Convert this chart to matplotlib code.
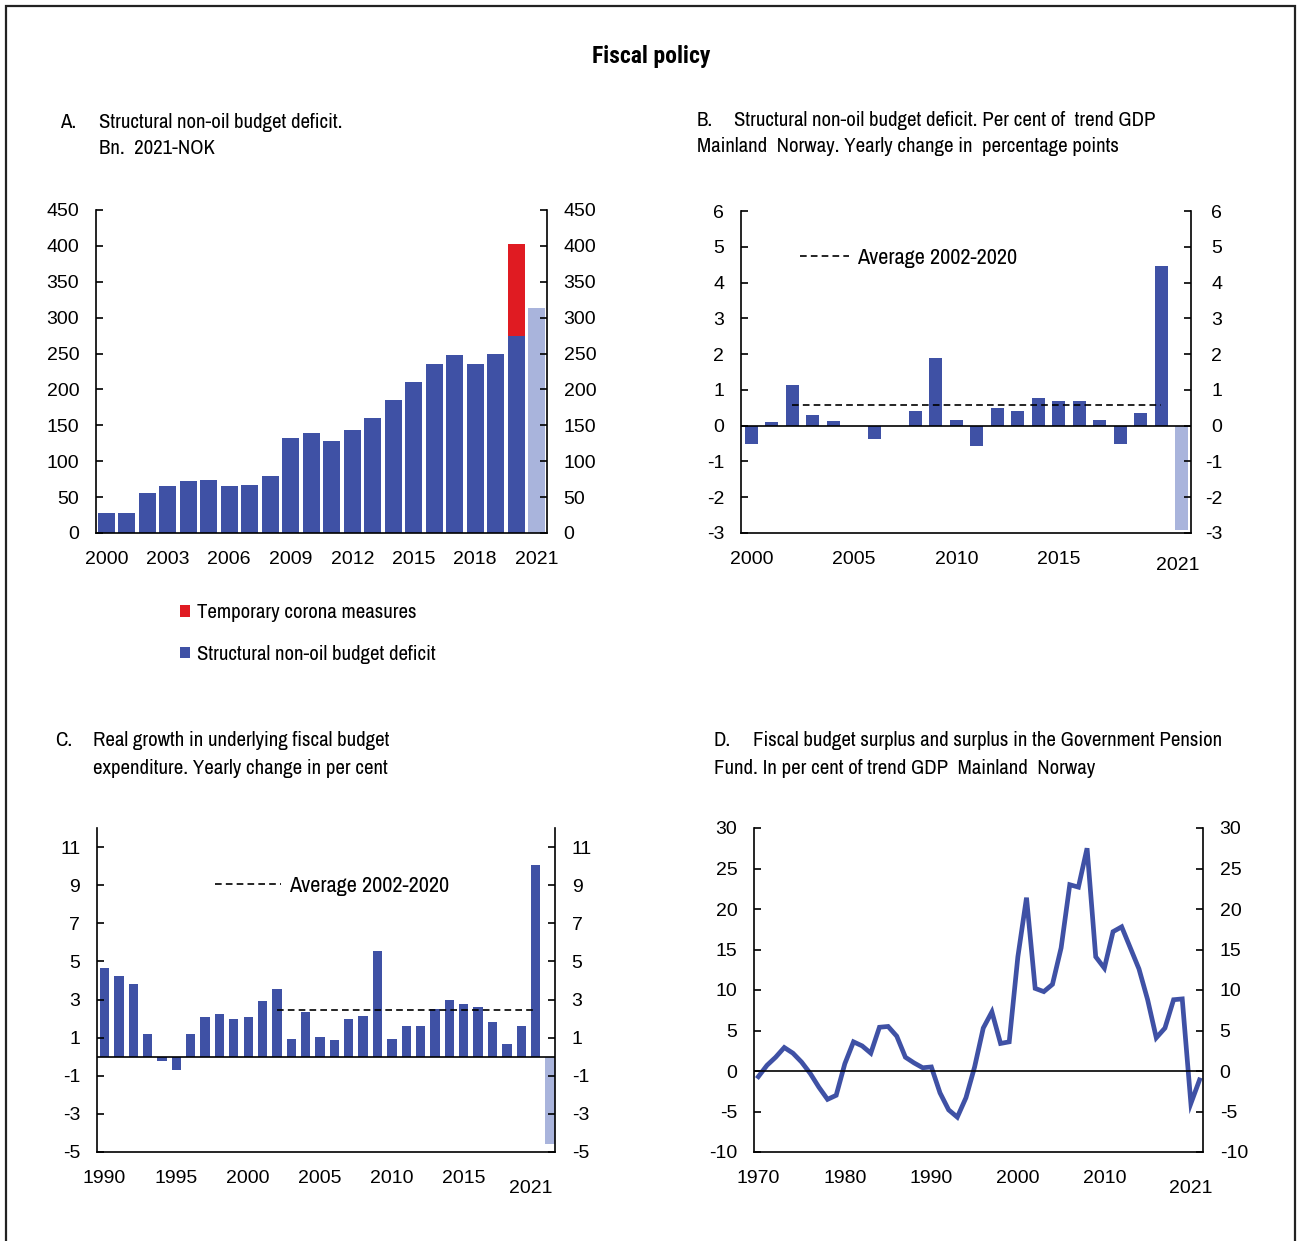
import matplotlib
matplotlib.use('Agg')
import matplotlib.pyplot as plt
from matplotlib import font_manager
from matplotlib.patches import Rectangle
from matplotlib.transforms import ScaledTranslation

# data
years_a = list(range(2000, 2021))
deficit_a = [28, 28, 56, 65, 72, 74, 65, 67, 79, 132, 139, 128, 144, 160, 185,
             211, 236, 248, 236, 250, 275]
corona_a = [0] * 20 + [128]
deficit_2021 = 313

years_b = list(range(2000, 2021))
change_b = [-0.5, 0.1, 1.15, 0.3, 0.12, 0.0, -0.37, 0.0, 0.41, 1.88, 0.17, -0.57,
            0.49, 0.41, 0.76, 0.68, 0.68, 0.17, -0.51, 0.35, 4.45]
change_b_2021 = -2.93
avg_b = 0.57

years_c = list(range(1990, 2021))
growth_c = [4.67, 4.25, 3.81, 1.2, -0.23, -0.68, 1.2, 2.06, 2.25, 1.98, 2.06, 2.94,
            3.53, 0.94, 2.32, 1.01, 0.86, 1.98, 2.15, 5.54, 0.94, 1.63, 1.63, 2.48,
            3.0, 2.76, 2.59, 1.8, 0.68, 1.63, 10.07]
growth_c_2021 = -4.6
avg_c = 2.47

years_d = list(range(1970, 2022))
surplus_d = [-0.7, 0.7, 1.7, 2.9, 2.2, 1.1, -0.3, -2.0, -3.5, -3.0, 0.9, 3.6, 3.1,
             2.2, 5.4, 5.5, 4.3, 1.7, 1.0, 0.4, 0.5, -2.7, -4.8, -5.7, -3.3, 0.5,
             5.3, 7.3, 3.4, 3.6, 14.1, 21.4, 10.2, 9.8, 10.7, 15.2, 23.0, 22.7,
             27.5, 14.1, 12.7, 17.2, 17.8, 15.2, 12.6, 8.8, 4.1, 5.3, 8.8, 8.9,
             -4.0, -1.1]

dark = '#3F51A5'
light = '#A9B4DC'
red = '#E01B22'

# narrow fonts for titles
fonts = font_manager.fontManager.ttflist
names = {f.name for f in fonts}
narrow_list = ['Archivo Narrow', 'Roboto Condensed', 'PT Sans Narrow', 'Fira Sans Condensed',
               'Liberation Sans Narrow']
narrow = next((n for n in narrow_list if n in names), 'DejaVu Sans')
bold_narrow = next((n for n in narrow_list
                    if any(f.name == n and int(f.weight) >= 600 for f in fonts)), narrow)
cond = dict(family=narrow)
plt.rcParams['font.family'] = 'Liberation Sans'
plt.rcParams['axes.unicode_minus'] = False

W, H = 1304, 1241
fig = plt.figure(figsize=(W / 100, H / 100), dpi=100)


def px_text(x, y, s, **kw):
    fig.text(x / W, 1 - y / H, s, va='center', **cond, **kw)


def make_ax(left, right, top, bottom):
    ax = fig.add_axes([left / W, 1 - bottom / H, (right - left) / W, (bottom - top) / H])
    ax.spines['top'].set_visible(False)
    for s in ['left', 'right', 'bottom']:
        ax.spines[s].set_linewidth(1.2)
    ax.tick_params(axis='y', direction='in', left=True, right=True, labelleft=True,
                   labelright=True, length=5, width=1.2, labelsize=14, pad=12)
    ax.tick_params(axis='x', length=0, labelsize=14, pad=13)
    return ax


def year_label(ax, x, dx, dy):
    ax.annotate('2021', xy=(x, 0), xycoords=('data', 'axes fraction'),
                xytext=(dx, dy), textcoords='offset points', ha='center', va='top',
                fontsize=14)


# title
fig.text(651 / W, 1 - 57 / H, 'Fiscal policy', ha='center', va='center',
         fontsize=17, fontweight='bold', family=bold_narrow)
fig.add_artist(Rectangle((6 / W, -0.02), 1289 / W, 1.02 - 6 / H, transform=fig.transFigure,
                         fill=False, lw=1.6, edgecolor='#222222'))

ts = 15
# A
px_text(60, 122, 'A.', fontsize=ts)
px_text(99, 122, 'Structural non-oil budget deficit.', fontsize=ts)
px_text(99, 148, 'Bn.  2021-NOK', fontsize=ts)
ax = make_ax(96, 547, 210, 533)
b1 = ax.bar(years_a, deficit_a, width=0.82, color=dark, label='Structural non-oil budget deficit')
b2 = ax.bar(years_a, corona_a, bottom=deficit_a, width=0.82, color=red,
            label='Temporary corona measures')
ax.bar([2021], [deficit_2021], width=0.82, color=light)
ax.set_xlim(1999.5, 2021.5)
ax.set_ylim(0, 450)
ax.set_yticks(range(0, 451, 50))
ax.set_xticks(range(2000, 2022, 3))
ax.legend(handles=[b2, b1], loc='upper left', bbox_to_anchor=(180 / W, 1 - 603 / H),
          bbox_transform=fig.transFigure, frameon=False, handlelength=0.5,
          handleheight=0.5, handletextpad=0.3, labelspacing=1.1,
          borderpad=0, borderaxespad=0, prop=dict(size=ts, **cond))

# B
px_text(697, 120, 'B.', fontsize=ts)
px_text(734, 120, 'Structural non-oil budget deficit. Per cent of  trend GDP', fontsize=ts)
px_text(697, 147, 'Mainland  Norway. Yearly change in  percentage points', fontsize=ts)
ax = make_ax(741, 1191, 211, 533)
ax.bar(years_b, change_b, width=0.62, color=dark)
ax.bar([2021], [change_b_2021], width=0.62, color=light)
ax.axhline(0, color='black', lw=1.2)
l, = ax.plot([2002, 2020], [avg_b, avg_b], color='black', lw=1.2, dashes=(4, 2.5),
             label='Average 2002-2020')
ax.set_xlim(1999.5, 2021.45)
ax.set_ylim(-3, 6)
ax.set_yticks(range(-3, 7))
ax.set_xticks(range(2000, 2020, 5))
# right-hand labels are right aligned here
shift = ax.get_yaxis_transform(which='tick2') + ScaledTranslation(0.31, 0, fig.dpi_scale_trans)
for tick in ax.yaxis.get_major_ticks():
    tick.label2.set_horizontalalignment('right')
    tick.label2.set_transform(shift)
year_label(ax, 2021, -3, -17)
ax.legend(handles=[l], loc='center left', bbox_to_anchor=(800 / W, 1 - 258 / H),
          bbox_transform=fig.transFigure, frameon=False, handlelength=2.2,
          handletextpad=0.35, borderpad=0, borderaxespad=0, prop=dict(size=16, **cond))

# C
px_text(55, 741, 'C.', fontsize=ts)
px_text(93, 741, 'Real growth in underlying fiscal budget', fontsize=ts)
px_text(93, 768, 'expenditure. Yearly change in per cent', fontsize=ts)
ax = make_ax(97, 555, 828, 1152)
ax.bar(years_c, growth_c, width=0.65, color=dark)
ax.bar([2021], [growth_c_2021], width=0.65, color=light)
ax.axhline(0, color='black', lw=1.2)
l, = ax.plot([2002, 2020], [avg_c, avg_c], color='black', lw=1.2, dashes=(4, 2.5),
             label='Average 2002-2020')
ax.set_xlim(1989.48, 2021.35)
ax.set_ylim(-5, 12)
ax.set_yticks(range(-5, 12, 2))
ax.set_xticks(range(1990, 2020, 5))
year_label(ax, 2021, -14, -20)
ax.legend(handles=[l], loc='center left', bbox_to_anchor=(215 / W, 1 - 886 / H),
          bbox_transform=fig.transFigure, frameon=False, handlelength=2.95,
          handletextpad=0.4, borderpad=0, borderaxespad=0, prop=dict(size=16, **cond))

# D
px_text(714, 741, 'D.', fontsize=ts)
px_text(753, 741, 'Fiscal budget surplus and surplus in the Government Pension', fontsize=ts)
px_text(714, 768, 'Fund. In per cent of trend GDP  Mainland  Norway', fontsize=ts)
ax = make_ax(754, 1203, 828, 1152)
ax.plot(years_d, surplus_d, color=dark, lw=3.4, solid_joinstyle='miter')
ax.axhline(0, color='black', lw=1.2)
ax.set_xlim(1969.5, 2021.4)
ax.set_ylim(-10, 30)
ax.set_yticks(range(-10, 31, 5))
ax.set_xticks(range(1970, 2020, 10))
year_label(ax, 2021, -6, -20)

fig.savefig('out.png', dpi=100)
